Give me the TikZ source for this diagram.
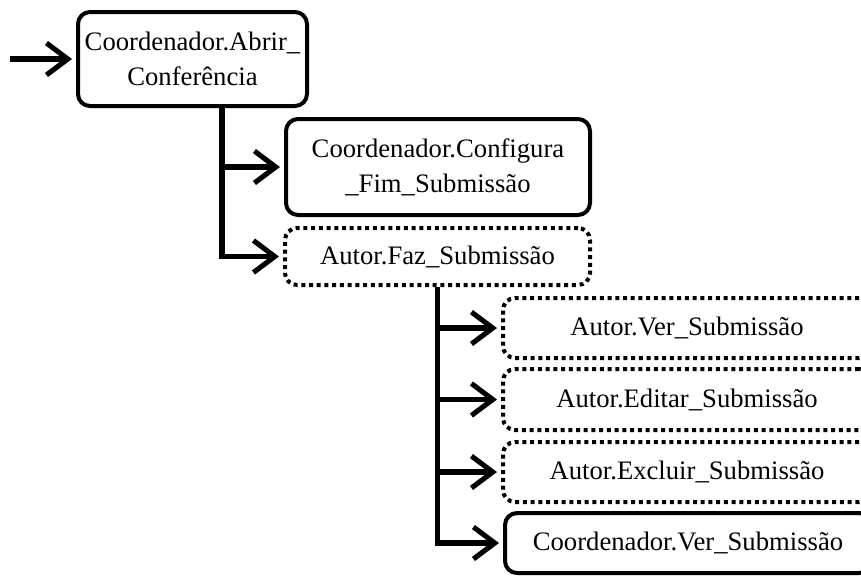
\documentclass[tikz,border=0pt]{standalone}
\usepackage{fontspec}
\setmainfont{Liberation Serif}
\usetikzlibrary{arrows.meta}
\tikzset{
  state/.style={draw=black, line width=3pt, rounded corners=9pt, inner sep=0pt,
    align=center, font=\fontsize{20}{26.25}\selectfont},
  optstate/.style={state, line width=3pt, dash pattern=on 3pt off 2.8pt},
  flow/.style={line width=3.8pt, -{Straight Barb[length=16pt, width=24pt]},
    shorten >=3pt},
}
\begin{document}
\begin{tikzpicture}[x=0.75pt, y=-0.75pt]
\useasboundingbox (0,0) rectangle (861,576);
\begin{scope}
\clip (0,0) rectangle (861,576);
% activities
\node[state, minimum width=171.75pt, minimum height=70.5pt] (b1) at (192.5,59)
  {Coordenador.Abrir\_\\Conferência};
\node[state, minimum width=228pt, minimum height=72pt] (b2) at (438,167)
  {Coordenador.Configura\\\_Fim\_Submissão};
\node[optstate, minimum width=228.75pt, minimum height=42.75pt] (b3) at (437.5,256.5)
  {Autor.Faz\_Submissão};
\node[optstate, minimum width=276pt, minimum height=45pt] (b4) at (687,328)
  {Autor.Ver\_Submissão};
\node[optstate, minimum width=276pt, minimum height=45.75pt] (b5) at (687,399.5)
  {Autor.Editar\_Submissão};
\node[optstate, minimum width=276pt, minimum height=45pt] (b6) at (687,472)
  {Autor.Excluir\_Submissão};
\node[state, minimum width=274.5pt, minimum height=45pt] (b7) at (688,543)
  {Coordenador.Ver\_Submissão};
% entry point and trunk position
\coordinate (start) at (10,59);
\coordinate (t1) at (222,0);
% connectors
\draw[flow] (start) -- (b1.west);
\draw[flow] (b1.south -| t1) |- (b3.west);
\draw[flow] (t1 |- b2.west) -- (b2.west);
\draw[flow] (b3.south) |- (b7.west);
\draw[flow] (b3.south |- b4.west) -- (b4.west);
\draw[flow] (b3.south |- b5.west) -- (b5.west);
\draw[flow] (b3.south |- b6.west) -- (b6.west);
\end{scope}
\end{tikzpicture}
\end{document}
